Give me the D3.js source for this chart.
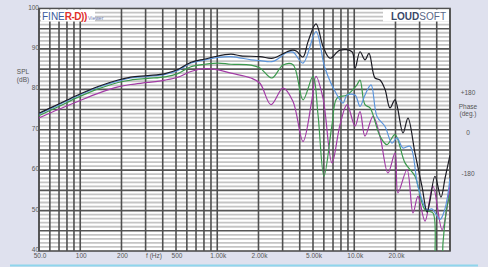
<!DOCTYPE html>
<html>
<head>
<meta charset="utf-8">
<script src="https://cdn.jsdelivr.net/npm/d3@7"></script>
<style>
  body { margin: 0; background: #dfe1ee; }
  svg { display: block; font-family: "Liberation Sans", Arial, sans-serif; }
</style>
</head>
<body>
<div id="container"></div>
<script>
// frequency response, four curves (Hz / dB SPL)
let blackFreq = [50, 69, 96, 135, 189, 234, 312, 416, 516, 643, 814, 935, 1260, 1490, 2050, 2550, 3230, 3570, 3800, 4230, 4600, 5260, 5920, 6650, 7870, 9630, 10130, 11020, 11980, 12820, 14170, 15420, 16770, 18240, 19840, 22680, 24670, 27770, 31220, 33960, 35500, 38860, 42950, 46000, 50000];
let blackDb   = [74.1, 76.3, 78.6, 80.7, 82.3, 83.0, 83.4, 83.9, 84.9, 86.7, 87.5, 88.0, 88.7, 88.3, 88.1, 87.7, 89.3, 89.7, 89.4, 88.0, 91.8, 96.2, 90.6, 87.7, 89.7, 89.3, 85.2, 89.3, 87.3, 88.9, 82.8, 82.3, 80.0, 75.4, 77.4, 69.2, 72.9, 64.2, 56.0, 49.6, 52.0, 58.5, 53.3, 58.0, 63.7];

let blueFreq = [50, 69, 96, 135, 189, 234, 312, 416, 516, 643, 814, 1013, 1260, 1764, 2051, 2553, 3229, 3574, 4227, 5258, 6120, 7484, 8280, 8860, 10130, 11020, 11980, 13260, 14660, 16770, 18860, 20500, 22680, 25520, 29170, 33960, 37000, 42260, 46000, 50000];
let blueDb   = [73.9, 76.1, 78.4, 80.5, 82.1, 82.8, 83.2, 83.7, 84.7, 86.5, 87.3, 87.9, 88.1, 87.3, 87.1, 86.9, 89.1, 89.2, 86.5, 94.3, 85.2, 78.6, 76.6, 78.6, 78.6, 75.8, 78.6, 81.1, 73.3, 70.8, 66.7, 68.0, 65.5, 65.9, 56.0, 50.2, 50.4, 47.8, 50.5, 58.0];

let greenFreq = [50, 69, 96, 135, 189, 234, 312, 416, 516, 643, 814, 1013, 1260, 1764, 2051, 2500, 3020, 3574, 4227, 5000, 5440, 6016, 6880, 7484, 8860, 10470, 11020, 11980, 13040, 15420, 17340, 19840, 23470, 27770, 32840, 37580, 40000, 43000, 44450, 47000, 50000];
let greenDb   = [73.5, 75.7, 78.0, 80.1, 81.7, 82.3, 82.7, 83.1, 83.9, 85.6, 86.2, 86.5, 86.2, 86.0, 85.3, 82.8, 86.0, 86.1, 77.4, 83.2, 73.7, 58.5, 71.2, 77.8, 78.6, 81.1, 82.3, 76.2, 75.4, 68.4, 66.3, 68.8, 61.8, 58.5, 50.2, 49.4, 36.0, 36.0, 42.0, 50.0, 54.0];

let purpleFreq = [50, 69, 96, 135, 189, 234, 312, 416, 516, 643, 814, 1013, 1260, 1764, 2051, 2468, 3020, 3574, 4227, 4890, 5258, 5916, 6880, 7870, 8860, 10130, 11020, 11980, 13700, 15420, 17630, 19840, 20860, 24270, 26850, 29170, 32840, 37580, 43710, 50000];
let purpleDb   = [72.9, 75.0, 77.0, 79.0, 80.6, 81.2, 81.7, 82.3, 83.0, 84.4, 85.1, 84.8, 84.0, 82.8, 81.5, 76.2, 80.3, 77.0, 67.1, 77.0, 83.2, 77.8, 61.8, 71.2, 76.2, 70.9, 74.5, 68.4, 73.3, 68.4, 59.3, 64.2, 54.4, 60.1, 49.4, 53.5, 47.4, 56.0, 45.3, 56.5];

let freqLines = [50, 60, 70, 80, 90, 100, 200, 300, 400, 500, 600, 700, 800, 900, 1000, 2000, 3000, 4000, 5000, 6000, 7000, 8000, 9000, 10000, 20000, 30000, 40000, 50000];
let freqLabels = [[50, "50.0"], [100, "100"], [200, "200"], [500, "500"], [1000, "1.00k"], [2000, "2.00k"], [5000, "5.00k"], [10000, "10.0k"], [20000, "20.0k"]];
let splTicks = [40, 50, 60, 70, 80, 90, 100];
let phaseTicks = [[180, "+180"], [0, "0"], [-180, "-180"]];

let w = 488;
let h = 267;
let pLeft = 39, pRight = 450, pTop = 8.5, pBottom = 251;

let viz = d3.select("#container").append("svg")
    .attr("width", w)
    .attr("height", h);

viz.append("rect")
    .attr("width", w).attr("height", h)
    .attr("fill", "#dfe1ee");

let x = d3.scaleLog().domain([50, 50000]).range([pLeft, pRight]);
let y = d3.scaleLinear().domain([40, 100]).range([pBottom, pTop]);
let yPhase = d3.scaleLinear().domain([-180, 180]).range([174, 92.5]);

viz.append("rect")
    .attr("x", pLeft).attr("y", pTop)
    .attr("width", pRight - pLeft).attr("height", pBottom - pTop)
    .attr("fill", "#fff");

// horizontal grid, 1 dB minor, 5 dB major
let grid = viz.append("g");
grid.selectAll(".hmin")
    .data(d3.range(41, 100))
    .enter().append("line")
    .attr("x1", pLeft).attr("x2", pRight)
    .attr("y1", d => y(d)).attr("y2", d => y(d))
    .attr("stroke", d => d % 5 == 0 ? "#555" : "#c4c4c4")
    .attr("stroke-width", d => d % 5 == 0 ? 1.6 : 1.8);

grid.selectAll(".v")
    .data(freqLines)
    .enter().append("line")
    .attr("x1", d => x(d)).attr("x2", d => x(d))
    .attr("y1", pTop).attr("y2", pBottom)
    .attr("stroke", "#505050")
    .attr("stroke-width", 1.6);

viz.append("rect")
    .attr("x", pLeft).attr("y", pTop)
    .attr("width", pRight - pLeft).attr("height", pBottom - pTop)
    .attr("fill", "none")
    .attr("stroke", "#505050")
    .attr("stroke-width", 1.6);

// curves
viz.append("clipPath").attr("id", "plotclip")
  .append("rect")
    .attr("x", pLeft).attr("y", pTop)
    .attr("width", pRight - pLeft).attr("height", pBottom - pTop);

let line = d3.line()
    .x(d => x(d[0]))
    .y(d => y(d[1]))
    .curve(d3.curveCatmullRom.alpha(0.5));

let curves = [
  [purpleFreq, purpleDb, "#a23ca6"],
  [greenFreq, greenDb, "#3c9a4e"],
  [blueFreq, blueDb, "#5b95dc"],
  [blackFreq, blackDb, "#1c1c24"]
];
let cg = viz.append("g").attr("clip-path", "url(#plotclip)");
curves.forEach(c => {
  cg.append("path")
    .datum(d3.zip(c[0], c[1]))
    .attr("d", line)
    .attr("fill", "none")
    .attr("stroke", c[2])
    .attr("stroke-width", 1.2);
});

// axis text
let lab = viz.append("g")
    .attr("font-size", 6.5)
    .attr("fill", "#555");

lab.selectAll(".yl")
    .data(splTicks)
    .enter().append("text")
    .text(d => d)
    .attr("x", pLeft)
    .attr("y", d => y(d) + 1)
    .attr("text-anchor", "end");

lab.selectAll(".xl")
    .data(freqLabels)
    .enter().append("text")
    .text(d => d[1])
    .attr("x", d => x(d[0]) + 1)
    .attr("y", 258)
    .attr("text-anchor", "middle");

lab.append("text").text("f (Hz)")
    .attr("x", 154).attr("y", 258)
    .attr("text-anchor", "middle");

lab.append("text").text("SPL")
    .attr("x", 23).attr("y", 74)
    .attr("text-anchor", "middle");
lab.append("text").text("(dB)")
    .attr("x", 23).attr("y", 82)
    .attr("text-anchor", "middle");

lab.selectAll(".pl")
    .data(phaseTicks)
    .enter().append("text")
    .text(d => d[1])
    .attr("x", 468)
    .attr("y", d => yPhase(d[0]) + 2)
    .attr("text-anchor", "middle");

lab.append("text").text("Phase")
    .attr("x", 468).attr("y", 109)
    .attr("text-anchor", "middle");
lab.append("text").text("(deg.)")
    .attr("x", 468).attr("y", 116)
    .attr("text-anchor", "middle");

// logos
viz.append("rect")
    .attr("x", 41).attr("y", 9.5)
    .attr("width", 54).attr("height", 12)
    .attr("fill", "#fff");
let fine = viz.append("text")
    .attr("x", 42).attr("y", 19.5)
    .attr("font-size", 10);
fine.append("tspan").text("FINE").attr("fill", "#3d5b9c");
fine.append("tspan").text("R-D))").attr("fill", "#e0302c").attr("font-weight", "bold").attr("letter-spacing", -0.5);
fine.append("tspan").text(" Viewer").attr("fill", "#6b7bb0").attr("font-size", 5);

viz.append("rect")
    .attr("x", 383).attr("y", 9.5)
    .attr("width", 66).attr("height", 12)
    .attr("fill", "#fff");
let ls = viz.append("text")
    .attr("x", 446).attr("y", 20)
    .attr("text-anchor", "end")
    .attr("font-size", 10);
ls.append("tspan").text("LOUD").attr("fill", "#3a4868").attr("font-weight", "bold");
ls.append("tspan").text("SOFT").attr("fill", "#5a6888");

viz.append("line")
    .attr("x1", 10).attr("x2", 478)
    .attr("y1", 265.5).attr("y2", 265.5)
    .attr("stroke", "#8fd6ec")
    .attr("stroke-width", 2);
</script>
</body>
</html>
